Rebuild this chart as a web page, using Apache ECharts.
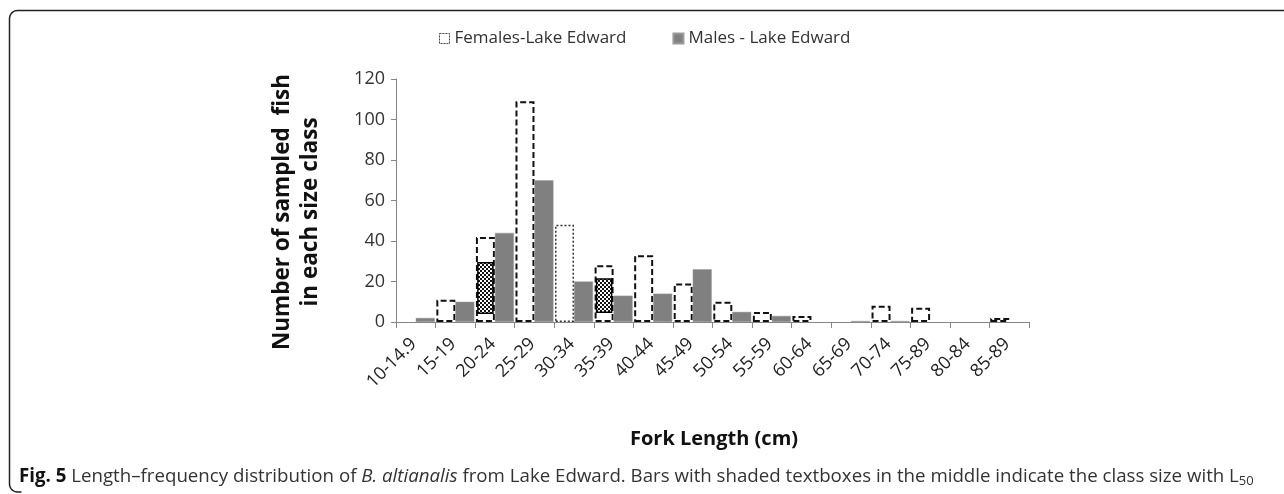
<!DOCTYPE html>
<html>
<head>
<meta charset="utf-8">
<script src="https://cdn.jsdelivr.net/npm/echarts@6/dist/echarts.min.js"></script>
<style>
html,body{margin:0;padding:0;background:#fff;}
#chart{width:1284px;height:494px;}
</style>
</head>
<body>
<div id="chart"></div>
<script>
// ---- data ----
const categories = ['10-14.9','15-19','20-24','25-29','30-34','35-39','40-44','45-49','50-54','55-59','60-64','65-69','70-74','75-89','80-84','85-89'];
// null = no bar drawn in that class
const females = [null, 11, 42, 109, 48, 28, 33, 19, 10, 5, 3, null, 8, 7, null, 2];
const males = [2, 10, 44, 70, 20, 13, 14, 26, 5, 3, null, 0.5, 0.5, null, null, null];
// shaded L50 textboxes: [category index, lower value, upper value]
const l50Boxes = [[2, 4.3, 29.3], [5, 4.8, 21.2]];
const yTicks = {min: 0, max: 120, interval: 20};
const dottedFemaleIndex = 4;

const chart = echarts.init(document.getElementById('chart'), null, {renderer: 'canvas'});

// checker pattern for textboxes
const pc = document.createElement('canvas');
pc.width = 4; pc.height = 4;
const pctx = pc.getContext('2d');
pctx.fillStyle = '#111';
pctx.fillRect(0, 0, 4, 4);
pctx.fillStyle = '#fff';
pctx.fillRect(0, 0, 2, 2);
pctx.fillRect(2, 2, 2, 2);

const femaleData = females.map((v, i) => {
  if (i === dottedFemaleIndex) {
    return {value: v, itemStyle: {borderType: [2, 2], borderWidth: 1.5, borderColor: '#333'}};
  }
  return v;
});

// frame with rounded left corners
function frame() {
  const r = 8, x0 = 9.5, yTop = 10.5, yBot = 492;
  const pts = [[1284, yTop]];
  for (let k = 0; k <= 8; k++) {
    const a = Math.PI / 2 + k * (Math.PI / 2) / 8;
    pts.push([x0 + r + r * Math.cos(a), yTop + r - r * Math.sin(a)]);
  }
  for (let k = 0; k <= 8; k++) {
    const a = Math.PI + k * (Math.PI / 2) / 8;
    pts.push([x0 + r + r * Math.cos(a), yBot - r - r * Math.sin(a)]);
  }
  pts.push([x0 + r + 4, yBot]);
  return pts;
}

const font = 'Open Sans, DejaVu Sans, sans-serif';

const option = {
  animation: false,
  backgroundColor: '#fff',
  legend: {
    top: 25,
    left: 434,
    itemWidth: 10,
    itemHeight: 10,
    itemGap: 46,
    textStyle: {fontFamily: font, fontSize: 17, color: '#333'},
    data: [
      {name: 'Females-Lake Edward', icon: 'rect', itemStyle: {color: '#fff', borderColor: '#444', borderWidth: 1, borderType: [2, 1]}},
      {name: 'Males - Lake Edward', icon: 'rect', itemStyle: {color: '#808080'}}
    ]
  },
  grid: {left: 396, right: 255, top: 79, bottom: 172, containLabel: false},
  xAxis: {
    type: 'category',
    data: categories,
    z: 3,
    axisLine: {lineStyle: {color: '#868686', width: 1.2}},
    axisTick: {show: true, alignWithLabel: false, length: 6, lineStyle: {color: '#868686'}},
    axisLabel: {rotate: 45, fontFamily: font, fontSize: 18, color: '#222', margin: 17, padding: [0, 3, 0, 0], interval: 0}
  },
  yAxis: {
    type: 'value',
    min: yTicks.min, max: yTicks.max, interval: yTicks.interval,
    axisLine: {show: true, lineStyle: {color: '#868686', width: 1}},
    axisTick: {show: true, length: 5, lineStyle: {color: '#868686'}},
    splitLine: {show: false},
    axisLabel: {fontFamily: font, fontSize: 18, color: '#333', margin: 11}
  },
  series: [
    {
      name: 'Females-Lake Edward',
      type: 'bar',
      data: femaleData,
      barGap: '0%',
      barCategoryGap: '4%',
      itemStyle: {color: '#fff', borderColor: '#111', borderWidth: 2, borderType: [6, 3]}
    },
    {
      name: 'Males - Lake Edward',
      type: 'bar',
      data: males,
      barGap: '0%',
      barCategoryGap: '4%',
      itemStyle: {color: '#808080', borderColor: '#9a9a9a', borderWidth: 0.5}
    },
    {
      name: 'L50',
      type: 'custom',
      data: l50Boxes,
      encode: {x: 0, y: [1, 2]},
      z: 5,
      renderItem: function (params, api) {
        const idx = api.value(0);
        const lo = api.coord([idx, api.value(1)]);
        const hi = api.coord([idx, api.value(2)]);
        const band = api.size([1, 0])[0];
        const barW = band * 0.96 / 2;
        const cx = lo[0] - barW / 2;
        const w = band * 0.38;
        return {
          type: 'rect',
          shape: {x: cx - w / 2, y: hi[1], width: w, height: lo[1] - hi[1]},
          style: {fill: {image: pc, repeat: 'repeat'}, stroke: '#000', lineWidth: 1.5}
        };
      }
    }
  ],
  graphic: [
    {
      type: 'polyline',
      shape: {points: frame()},
      style: {fill: null, stroke: '#222', lineWidth: 1.5}
    },
    {
      type: 'text',
      x: 297, y: 212,
      rotation: Math.PI / 2,
      style: {
        text: 'Number of sampled  fish\nin each size class',
        fontFamily: font, fontSize: 22.5, fontWeight: 'bold', fill: '#111',
        align: 'center', verticalAlign: 'middle', lineHeight: 28
      }
    },
    {
      type: 'text',
      x: 714, y: 439,
      style: {
        text: 'Fork Length (cm)',
        fontFamily: font, fontSize: 20, fontWeight: 'bold', fill: '#111',
        align: 'center', verticalAlign: 'middle'
      }
    },
    {
      type: 'text',
      x: 19, y: 477,
      style: {
        text: '{b|Fig. 5} Length\u2013frequency distribution of {i|B. altianalis} from Lake Edward. Bars with shaded textboxes in the middle indicate the class size with L{s|50}',
        fontFamily: font, fontSize: 18.7, fill: '#333',
        align: 'left', verticalAlign: 'middle',
        rich: {
          b: {fontFamily: font, fontSize: 18.7, fontWeight: 'bold', fill: '#111'},
          i: {fontFamily: font, fontSize: 18.7, fontStyle: 'italic', fill: '#333'},
          s: {fontFamily: font, fontSize: 13, fill: '#333', padding: [8, 0, 0, 0]}
        }
      }
    }
  ]
};
chart.setOption(option);
</script>
</body>
</html>
